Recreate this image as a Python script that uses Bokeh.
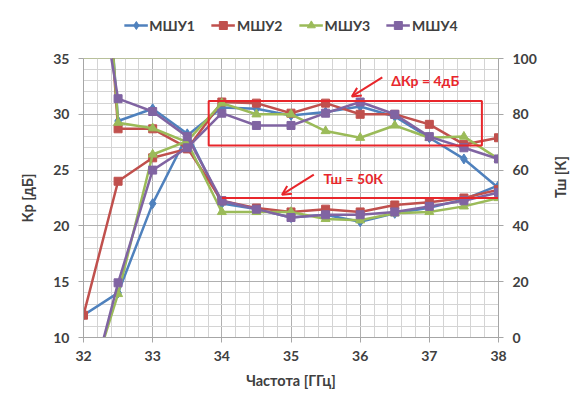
import math
from bokeh.plotting import figure
from bokeh.layouts import column
from bokeh.models import (Range1d, LinearAxis, FixedTicker, Legend, LegendItem,
                          Label, Arrow, OpenHead)
from bokeh.embed import file_html
from bokeh.resources import INLINE

# ---- data ----
freq = [32, 32.5, 33, 33.5, 34, 34.5, 35, 35.5, 36, 36.5, 37, 37.5, 38]
names = ["МШУ1", "МШУ2", "МШУ3", "МШУ4"]

gain1 = [12.0, 14.0, 22.0, 28.1, 30.6, 30.5, 29.9, 30.2, 30.7, 29.8, 27.9, 26.0, 23.4]
gain2 = [12.0, 24.0, 26.1, 26.9, 31.1, 31.0, 30.1, 31.0, 30.0, 30.0, 29.1, 27.3, 27.9]
gain3 = [4.0, 13.9, 26.4, 27.6, 31.0, 30.0, 30.0, 28.5, 27.9, 29.0, 27.9, 28.0, 26.0]
gain4 = [3.0, 14.9, 25.0, 27.0, 30.1, 29.0, 29.0, 30.1, 31.1, 30.0, 28.0, 27.0, 26.0]

noise1 = [250, 77.6, 82.0, 73.0, 48.0, 46.0, 43.0, 44.0, 41.5, 44.5, 46.5, 49.5, 54.5]
noise2 = [250, 74.8, 74.8, 68.0, 49.0, 46.4, 45.0, 46.0, 45.0, 47.5, 48.5, 50.0, 53.0]
noise3 = [250, 77.0, 75.0, 70.0, 45.0, 45.0, 45.0, 42.5, 42.0, 44.5, 45.0, 47.0, 50.0]
noise4 = [160, 85.6, 81.0, 72.0, 49.0, 46.0, 43.0, 44.0, 44.0, 45.0, 47.0, 49.0, 52.0]

gain_ticks = [10, 15, 20, 25, 30, 35]
gain_minor = list(range(10, 36))
temp_ticks = [0, 20, 40, 60, 80, 100]
freq_ticks = [32, 33, 34, 35, 36, 37, 38]
freq_minor = [round(32 + 0.2 * i, 1) for i in range(31)]

# annotation values
dk_box = dict(left=33.81, right=37.76, bottom=27.2, top=31.2)
t_limit = 50
t_line_x = [34, 38]

colors = ["#4F81BD", "#C0504D", "#9BBB59", "#8064A2"]
markers = ["diamond", "square", "triangle", "square"]
msizes = [10, 8, 9, 8]
FONT = "Lato"
TXT = "#404040"
RED = "#E8262B"

p = figure(width=580, height=345, output_backend="svg", toolbar_location=None,
           x_range=Range1d(32, 38), y_range=Range1d(10, 35),
           min_border_left=83, min_border_right=66, min_border_top=8,
           min_border_bottom=58, background_fill_color=None,
           border_fill_color=None)
p.extra_y_ranges = {"temp": Range1d(0, 100)}
p.outline_line_color = "#B8C09A"

# axes (grids follow the axis tickers)
p.xaxis.ticker = FixedTicker(ticks=freq_ticks, minor_ticks=freq_minor)
p.yaxis.ticker = FixedTicker(ticks=gain_ticks, minor_ticks=gain_minor)
for g in (p.xgrid, p.ygrid):
    g.grid_line_color = "#B0B0B0"
    g.minor_grid_line_color = "#D4D4D4"
    g.grid_line_width = 1
    g.minor_grid_line_width = 1

p.xaxis.axis_label = "Частота [ГГц]"
p.yaxis.axis_label = "Кр [дБ]"
raxis = LinearAxis(y_range_name="temp", ticker=FixedTicker(ticks=temp_ticks),
                   axis_label="Тш [К]")
p.add_layout(raxis, "right")
for ax in (p.xaxis[0], p.yaxis[0], raxis):
    ax.major_label_text_font = FONT
    ax.major_label_text_font_style = "bold"
    ax.major_label_text_font_size = "14px"
    ax.major_label_text_color = TXT
    ax.axis_label_text_font = FONT
    ax.axis_label_text_font_style = "bold"
    ax.axis_label_text_font_size = "14.5px"
    ax.axis_label_text_color = TXT
    ax.axis_line_color = "#A6A6A6"
    ax.major_tick_line_color = "#A6A6A6"
    ax.major_tick_out = 5
    ax.major_tick_in = 0
    ax.minor_tick_out = 0
    ax.minor_tick_in = 0
p.yaxis.major_label_standoff = 9
p.yaxis.axis_label_standoff = 14
raxis.major_label_standoff = 9
raxis.axis_label_standoff = 21
raxis.axis_label_orientation = math.pi / 2
p.xaxis.major_label_standoff = 8
p.xaxis.axis_label_standoff = 8

gains = [gain1, gain2, gain3, gain4]
noises = [noise1, noise2, noise3, noise4]
for i in range(4):
    c = colors[i]
    p.line(freq, noises[i], y_range_name="temp", color=c, line_width=2.5)
    p.scatter(freq, noises[i], y_range_name="temp", marker=markers[i],
              size=msizes[i], color=c)
    p.line(freq, gains[i], color=c, line_width=2.5)
    p.scatter(freq, gains[i], marker=markers[i], size=msizes[i], color=c)

# annotations
p.quad(left=[dk_box["left"]], right=[dk_box["right"]], bottom=[dk_box["bottom"]],
       top=[dk_box["top"]], fill_alpha=0, line_color=RED, line_width=2)
p.line(t_line_x, [t_limit, t_limit], y_range_name="temp", color=RED, line_width=2)

p.add_layout(Label(x=36.94, y=33.0, text="ΔКр = 4дБ", text_align="center",
                   text_baseline="middle", text_font=FONT, text_font_style="bold",
                   text_font_size="14px", text_color=RED))
p.add_layout(Label(x=35.9, y=24.25, text="Тш = 50К", text_align="center",
                   text_baseline="middle", text_font=FONT, text_font_style="bold",
                   text_font_size="14px", text_color=RED))
p.add_layout(Arrow(x_start=36.32, y_start=33.3, x_end=35.88, y_end=31.6,
                   line_color=RED, line_width=2,
                   end=OpenHead(size=9, line_color=RED, line_width=2)))
p.add_layout(Arrow(x_start=35.33, y_start=24.6, x_end=34.87, y_end=22.8,
                   line_color=RED, line_width=2,
                   end=OpenHead(size=9, line_color=RED, line_width=2)))

# legend strip (separate small figure above the chart; its series lie off-view)
lf = figure(width=580, height=50, output_backend="svg", toolbar_location=None,
            x_range=Range1d(0, 1), y_range=Range1d(0, 1), min_border=0,
            min_border_left=56, outline_line_color=None,
            background_fill_color=None, border_fill_color=None)
lf.axis.visible = False
lf.grid.visible = False
items = []
for i in range(4):
    c = colors[i]
    l0 = lf.line(freq, gains[i], color=c, line_width=2.5)
    s0 = lf.scatter(freq, gains[i], marker=markers[i], size=msizes[i] - 2, color=c)
    items.append(LegendItem(label=names[i], renderers=[l0, s0]))
legend = Legend(items=items, orientation="horizontal", location="center",
                label_text_font=FONT, label_text_font_style="bold",
                label_text_font_size="14px", label_text_color=TXT,
                glyph_width=24, label_standoff=2, spacing=16,
                border_line_alpha=0, background_fill_alpha=0, padding=2, margin=0)
lf.add_layout(legend)

open("out.html", "w").write(file_html(column(lf, p), INLINE))
